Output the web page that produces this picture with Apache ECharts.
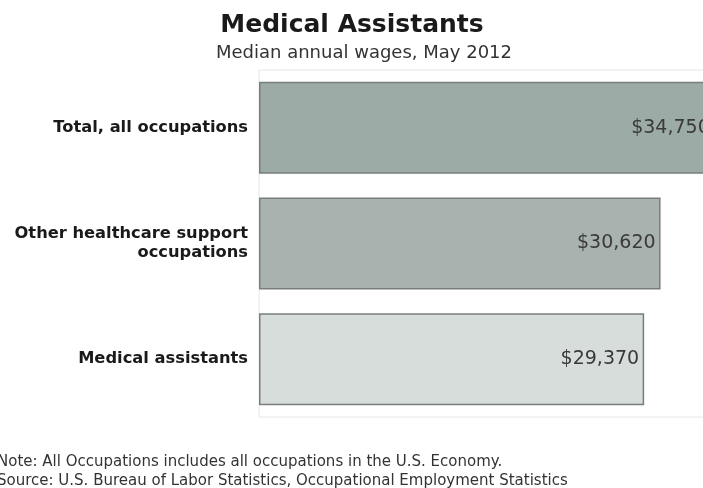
<!DOCTYPE html>
<html>
<head>
<meta charset="utf-8">
<script src="https://cdn.jsdelivr.net/npm/echarts@6/dist/echarts.min.js"></script>
<style>
html,body{margin:0;padding:0;background:#fff;}
#chart{width:703px;height:488px;}
</style>
</head>
<body>
<div id="chart"></div>
<script>
var categories = ["Total, all occupations", "Other healthcare support\noccupations", "Medical assistants"];
var wages = [34750, 30620, 29370];
var barColors = ["#9caba6", "#a8b2ae", "#d7dddb"];
var titleText = "Medical Assistants";
var subtitleText = "Median annual wages, May 2012";
var noteText = "Note: All Occupations includes all occupations in the U.S. Economy.";
var sourceText = "Source: U.S. Bureau of Labor Statistics, Occupational Employment Statistics";

function fmt(v){ return "$" + v.toString().replace(/\B(?=(\d{3})+(?!\d))/g, ","); }

var chart = echarts.init(document.getElementById('chart'), null, {renderer:'canvas'});
chart.setOption({
  animation: false,
  backgroundColor: '#ffffff',
  grid: {
    left: 259, right: -15, top: 70, height: 347,
    show: true, borderColor: '#e6e6e6', borderWidth: 1, backgroundColor: '#ffffff',
    containLabel: false, outerBoundsMode: 'none'
  },
  xAxis: {
    type: 'value', min: 0, max: 35000, show: false
  },
  yAxis: {
    type: 'category', inverse: true, data: categories,
    axisLine: {show: false}, axisTick: {show: false}, splitLine: {show: false},
    axisLabel: {
      margin: 11, color: '#1a1a1a', fontFamily: 'DejaVu Sans', fontWeight: 'bold',
      fontSize: 16.3, lineHeight: 19, align: 'right'
    }
  },
  series: [{
    type: 'bar',
    barWidth: 92,
    clip: false,
    data: wages.map(function(v, i){
      return {value: v, itemStyle: {color: barColors[i]}};
    }),
    itemStyle: {borderColor: '#787e7c', borderWidth: 1.5},
    label: {
      show: true, position: 'insideRight', distance: 5,
      color: '#3a3a3a', fontFamily: 'DejaVu Sans', fontSize: 19,
      formatter: function(p){ return fmt(p.value); }
    }
  }],
  graphic: [
    {type: 'text', x: 352, y: 25, style: {text: titleText, fill: '#1a1a1a', font: 'bold 25px "DejaVu Sans"', textAlign: 'center', textVerticalAlign: 'middle'}},
    {type: 'text', x: 364, y: 53, style: {text: subtitleText, fill: '#333333', font: '18px "DejaVu Sans"', textAlign: 'center', textVerticalAlign: 'middle'}},
    {type: 'text', x: -3, y: 462, style: {text: noteText, fill: '#333333', font: '15px "DejaVu Sans"', textAlign: 'left', textVerticalAlign: 'middle'}},
    {type: 'text', x: -3, y: 481, style: {text: sourceText, fill: '#333333', font: '15px "DejaVu Sans"', textAlign: 'left', textVerticalAlign: 'middle'}}
  ]
});
</script>
</body>
</html>
